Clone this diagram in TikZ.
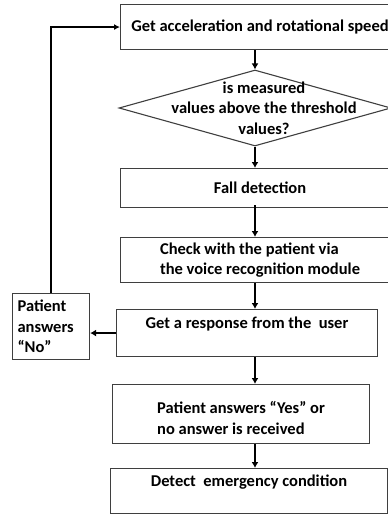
\documentclass[tikz,border=0pt]{standalone}
\usepackage{fontspec}
\setmainfont{Carlito}
\usetikzlibrary{arrows.meta,shapes.geometric}
\definecolor{Edge}{HTML}{3F3F3F}
\tikzset{
  stepfont/.style={font=\fontsize{16.5}{20.5}\selectfont\bfseries},
  procbox/.style={draw=Edge,line width=1.1pt,rectangle,inner sep=0pt,
              anchor=north west,align=center,stepfont},
  testbox/.style={draw=Edge,line width=1.1pt,diamond,inner sep=0pt},
  flow/.style={-{Latex[length=6pt,width=7pt]},line width=2.2pt},
  backflow/.style={-{Latex[length=6pt,width=6pt]},line width=1.4pt}
}
\begin{document}
\begin{tikzpicture}[x=1pt,y=-1pt]
  \useasboundingbox (0,0) rectangle (388,514);
  \node[procbox,minimum width=279pt,minimum height=45pt] (get) at (120,4)
    {Get acceleration and rotational speed};
  \node[testbox,minimum width=272pt,minimum height=76pt,
    label={[stepfont,align=center,xshift=9pt,name=testtext]center:is measured\\values above the threshold\\values?}]
    (test) at (255,108) {};
  \node[procbox,minimum width=279pt,minimum height=39pt] (fall) at (120,168)
    {Fall detection};
  \node[procbox,minimum width=279pt,minimum height=45pt,align=left] (check) at (120,237)
    {Check with the patient via\\the voice recognition module};
  \node[procbox,minimum width=261pt,minimum height=47pt] (resp) at (116,309)
    {Get a response from the\ \ user\\\mbox{}};
  \node[procbox,minimum height=66pt,text width=67pt,inner xsep=5pt,align=left] (no) at (12,293)
    {Patient\\answers\\“No”};
  \node[procbox,minimum width=257pt,minimum height=59pt,align=left] (yes) at (112,384)
    {\mbox{}\\Patient answers “Yes” or\\no answer is received};
  \node[procbox,minimum width=277pt,minimum height=45pt] (detect) at (110,468)
    {Detect\ \ emergency condition\\\mbox{}};
  \draw[flow] (get.south -| test.north) -- (test.north);
  \draw[flow] (test.south) -- (test.south |- fall.north);
  \draw[flow] ([yshift=3pt]fall.south -| test.south) -- (check.north -| test.south);
  \draw[flow] (check.south -| test.south) -- (resp.north -| test.south);
  \draw[flow] (resp.west) -- (resp.west -| no.east);
  \draw[backflow] (no.north) |- (get.west);
  \draw[flow] (resp.south -| test.south) -- (yes.north -| test.south);
  \draw[flow] (yes.south -| test.south) -- (detect.north -| test.south);
\end{tikzpicture}
\end{document}
